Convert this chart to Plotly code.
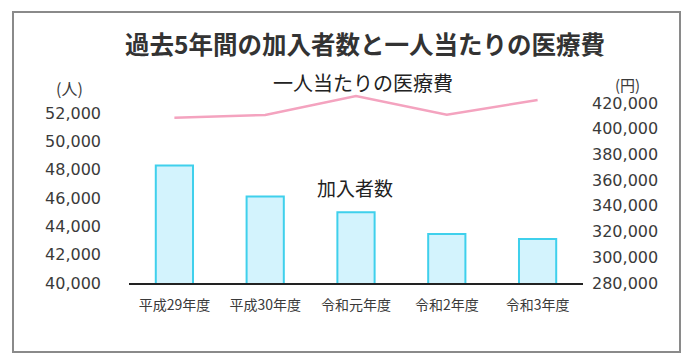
import plotly.graph_objects as go

categories = ["平成29年度", "平成30年度", "令和元年度", "令和2年度", "令和3年度"]
members = [48300, 46100, 45000, 43450, 43100]
cost_per_person = [408600, 410700, 425400, 410900, 422300]
left_ticks = [40000, 42000, 44000, 46000, 48000, 50000, 52000]
right_ticks = [280000, 300000, 320000, 340000, 360000, 380000, 400000, 420000]

# page body has an 8px margin; work in window pixels and shift
OFF = 8
W, H = 690 - OFF, 360 - OFF
PL, PR, PT, PB = 129, 583, 88, 283  # plot area in window pixels
L, R, T, B = PL - OFF, W - (PR - OFF), PT - OFF, H - (PB - OFF)
pw, ph = W - L - R, H - T - B


def px(x):
    return (x - OFF - L) / pw


def py(y):
    return (H - B - (y - OFF)) / ph


TXT = "#3a3a3a"
FONT = "DejaVu Sans, Noto Sans CJK JP, sans-serif"
CJK = "Noto Sans CJK JP, sans-serif"

fig = go.Figure()
fig.add_trace(go.Bar(
    x=categories, y=members, base=0,
    marker=dict(color="#d3f3fd", line=dict(color="#3fd0ec", width=2)),
    width=0.41, yaxis="y", showlegend=False, hoverinfo="skip",
))
fig.add_trace(go.Scatter(
    x=categories, y=cost_per_person, mode="lines",
    line=dict(color="#f4a3bf", width=2.5), yaxis="y2",
    showlegend=False, hoverinfo="skip",
))

fig.update_layout(
    width=W, height=H,
    margin=dict(l=L, r=R, t=T, b=B),
    paper_bgcolor="white", plot_bgcolor="white",
    font=dict(family=FONT, color=TXT),
    title=dict(text="<b>過去5年間の加入者数と一人当たりの医療費</b>",
               x=(365 - OFF) / W, y=1 - (45 - OFF) / H,
               xanchor="center", yanchor="middle",
               font=dict(family=CJK, size=24.5, color="#333333")),
    xaxis=dict(showline=True, linecolor="#222222", linewidth=1.5,
               showgrid=False, zeroline=False, ticks="",
               ticklabelstandoff=8,
               tickfont=dict(family=CJK, size=14, color=TXT),
               range=[-0.5, 4.5]),
    yaxis=dict(range=[40000, 40000 + ph / 14.17 * 1000],
               tickvals=left_ticks, tickformat=",d",
               showgrid=False, zeroline=False, showline=False, ticks="",
               ticklabelstandoff=27,
               tickfont=dict(family=FONT, size=16, color=TXT)),
    yaxis2=dict(range=[280000, 280000 + ph * 777.8],
                tickvals=right_ticks, tickformat=",d",
                overlaying="y", side="right",
                showgrid=False, zeroline=False, showline=False, ticks="",
                ticklabelstandoff=8,
                tickfont=dict(family=FONT, size=16, color=TXT)),
    shapes=[dict(type="rect", xref="paper", yref="paper",
                 x0=px(13), x1=px(680), y0=py(352), y1=py(12),
                 line=dict(color="#8a8a8a", width=2), fillcolor="rgba(0,0,0,0)",
                 layer="below")],
    annotations=[
        dict(text="(人)", xref="paper", yref="paper", x=px(70), y=py(88),
             showarrow=False, xanchor="center", yanchor="middle",
             font=dict(family=CJK, size=16, color=TXT)),
        dict(text="(円)", xref="paper", yref="paper", x=px(627), y=py(84),
             showarrow=False, xanchor="center", yanchor="middle",
             font=dict(family=CJK, size=15, color=TXT)),
        dict(text="一人当たりの医療費", xref="paper", yref="paper", x=px(363), y=py(82),
             showarrow=False, xanchor="center", yanchor="middle",
             font=dict(family=CJK, size=20, color="#222222")),
        dict(text="加入者数", xref="paper", yref="paper", x=px(355), y=py(187),
             showarrow=False, xanchor="center", yanchor="middle",
             font=dict(family=CJK, size=19, color="#222222")),
    ],
)

fig.write_html("out.html")
